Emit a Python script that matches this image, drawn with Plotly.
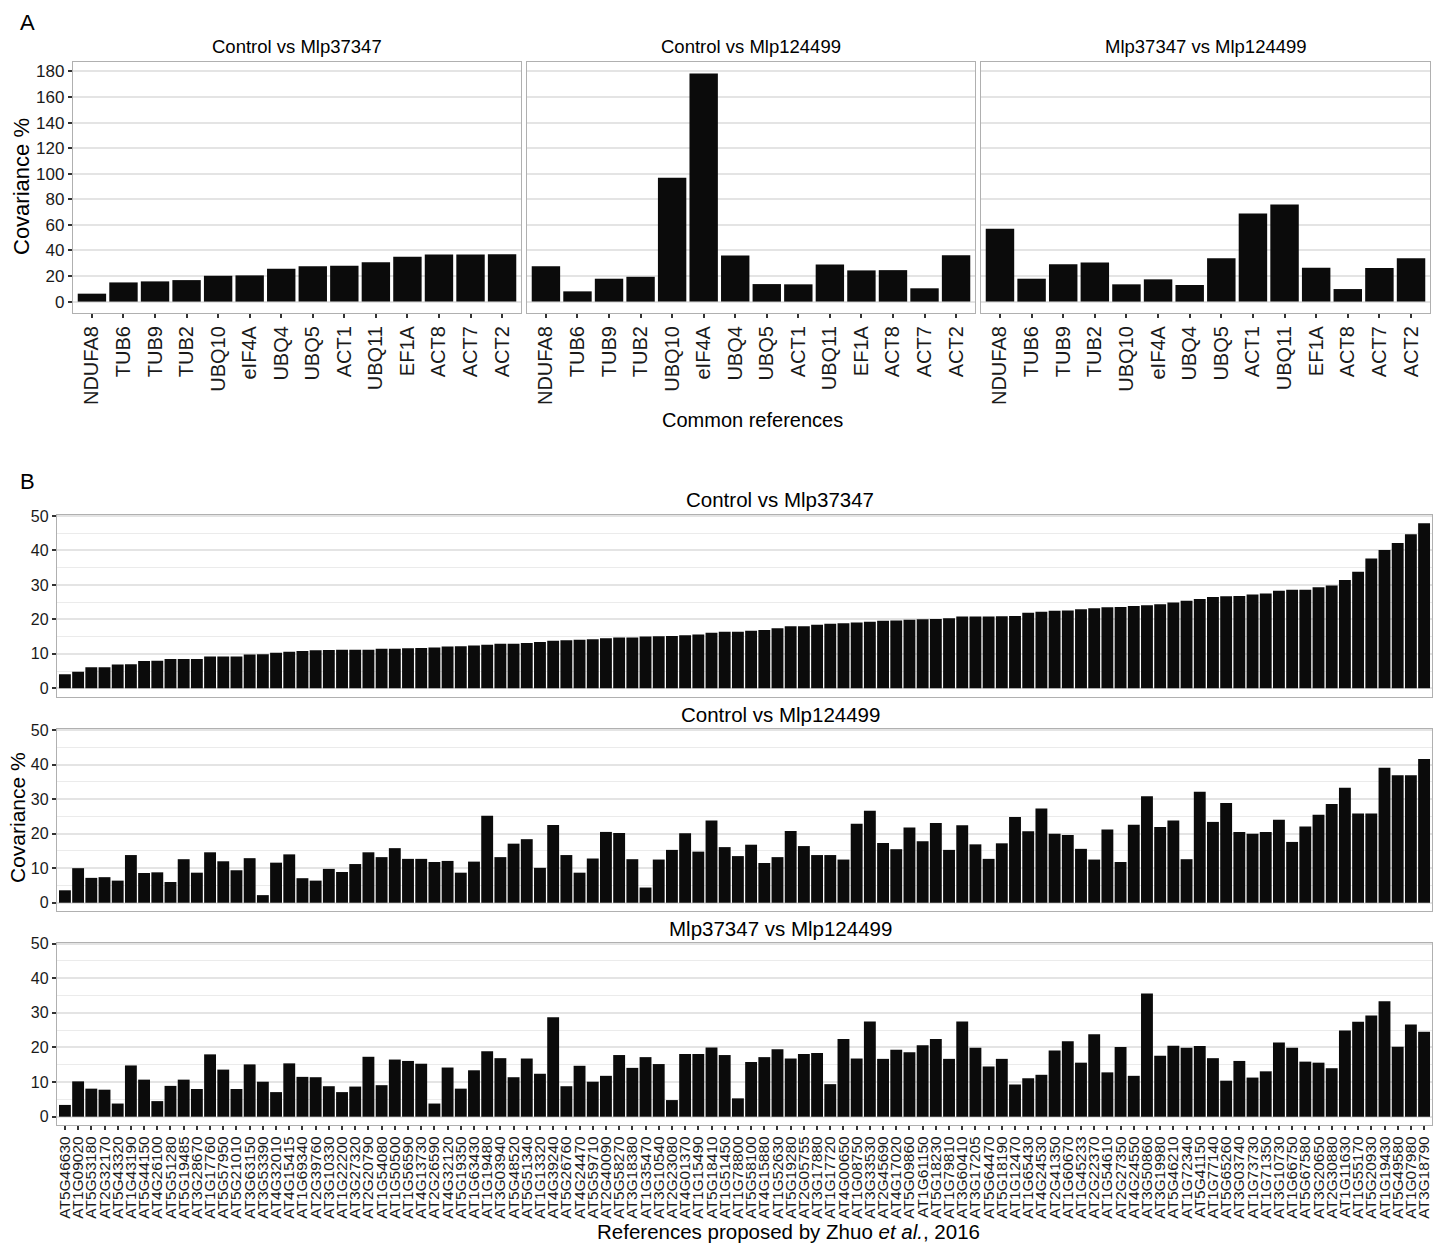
import plotly.graph_objects as go

# ---------------- Panel A: common reference genes ----------------
genes_a = ["NDUFA8", "TUB6", "TUB9", "TUB2", "UBQ10", "eIF4A", "UBQ4",
           "UBQ5", "ACT1", "UBQ11", "EF1A", "ACT8", "ACT7", "ACT2"]

a_ctrl_vs_37347 = [6.2, 15.0, 15.8, 16.8, 20.2, 20.5, 25.6, 27.7, 28.0, 30.8,
                   35.0, 36.8, 36.8, 37.0]
a_ctrl_vs_124499 = [27.7, 8.0, 17.9, 19.4, 96.9, 178.5, 36.0, 13.7, 13.5, 29.0,
                    24.4, 24.6, 10.4, 36.3]
a_37347_vs_124499 = [57.0, 17.9, 29.3, 30.6, 13.5, 17.4, 13.0, 33.9, 68.9, 75.9,
                     26.4, 9.8, 26.2, 33.9]

a_titles = ["Control vs Mlp37347", "Control vs Mlp124499", "Mlp37347 vs Mlp124499"]
a_ticks = [0, 20, 40, 60, 80, 100, 120, 140, 160, 180]

# ---------------- Panel B: references proposed by Zhuo et al. ----------------
genes_b = [
    "AT5G46630", "AT1G09020", "AT5G53180", "AT2G32170", "AT5G43320", "AT1G43190",
    "AT5G44150", "AT4G26100", "AT5G51280", "AT5G19485", "AT3G28670", "AT1G17760",
    "AT5G57950", "AT5G21010", "AT3G63150", "AT3G53390", "AT4G32010", "AT4G15415",
    "AT1G69340", "AT2G39760", "AT3G10330", "AT1G22200", "AT3G27320", "AT2G20790",
    "AT1G54080", "AT1G50500", "AT1G56590", "AT4G13730", "AT2G26590", "AT4G32120",
    "AT5G19350", "AT1G63430", "AT1G19480", "AT3G03940", "AT5G48520", "AT5G51340",
    "AT1G13320", "AT4G39240", "AT5G26760", "AT4G24470", "AT5G59710", "AT2G40090",
    "AT5G58270", "AT3G18380", "AT1G35470", "AT3G10540", "AT2G23080", "AT4G01370",
    "AT1G15490", "AT5G18410", "AT1G51450", "AT1G78800", "AT5G58100", "AT4G15880",
    "AT1G52630", "AT5G19280", "AT2G05755", "AT3G17880", "AT1G17720", "AT4G00650",
    "AT1G08750", "AT3G33530", "AT2G45690", "AT4G17020", "AT5G09860", "AT1G61150",
    "AT5G18230", "AT1G79810", "AT3G60410", "AT3G17205", "AT5G64470", "AT5G18190",
    "AT1G12470", "AT1G65430", "AT4G24530", "AT2G41350", "AT1G60670", "AT1G45233",
    "AT2G22370", "AT1G54610", "AT2G27350", "AT4G24550", "AT3G50860", "AT3G19980",
    "AT5G46210", "AT1G72340", "AT5G41150", "AT1G77140", "AT5G65260", "AT3G03740",
    "AT1G73730", "AT1G71350", "AT3G10730", "AT1G66750", "AT5G67580", "AT3G20650",
    "AT2G30880", "AT1G11630", "AT1G55170", "AT5G20930", "AT1G19430", "AT5G49580",
    "AT1G07980", "AT3G18790",
]

b_ctrl_vs_37347 = [
    4.1, 4.8, 6.1, 6.1, 6.9, 7.0, 7.9, 8.0, 8.5, 8.5, 8.5, 9.2, 9.2, 9.2, 9.8, 9.9,
    10.3, 10.6, 10.8, 11.0, 11.1,
    11.2, 11.2, 11.2, 11.5, 11.5, 11.6, 11.7, 11.8, 12.1, 12.2, 12.4, 12.6, 12.9,
    12.9, 13.1, 13.4, 13.8, 13.9, 14.1, 14.2, 14.5,
    14.7, 14.7, 15.0, 15.1, 15.2, 15.4, 15.6, 16.1, 16.4, 16.4, 16.7, 16.9, 17.4,
    18.0, 18.0, 18.4, 18.7, 18.9, 19.1, 19.3, 19.6,
    19.7, 19.9, 20.0, 20.1, 20.3, 20.8, 20.8, 20.8, 20.9, 21.0, 21.9, 22.2, 22.5,
    22.6, 22.9, 23.2, 23.5, 23.6, 23.9, 24.1, 24.4,
    24.9, 25.4, 25.9, 26.5, 26.7, 26.8, 27.2, 27.5, 28.3, 28.6, 28.6, 29.3, 29.8,
    31.4, 33.8, 37.7, 40.1, 42.2, 44.7, 47.9,
]

b_ctrl_vs_124499 = [
    3.6, 10.0, 7.2, 7.4, 6.4, 13.8, 8.6, 8.8, 6.0, 12.6, 8.7, 14.6, 12.0, 9.4, 12.9,
    2.2, 11.6, 14.0, 7.1, 6.4, 9.8,
    8.9, 11.2, 14.6, 13.2, 15.8, 12.7, 12.7, 11.8, 12.1, 8.7, 11.9, 25.2, 13.2, 17.1,
    18.4, 10.1, 22.5, 13.8, 8.7, 12.8, 20.5,
    20.2, 12.6, 4.4, 12.5, 15.3, 20.1, 14.8, 23.8, 16.1, 13.5, 16.8, 11.5, 13.2, 20.8,
    16.4, 13.8, 13.8, 12.5, 22.9, 26.6, 17.3,
    15.5, 21.8, 17.8, 23.1, 15.3, 22.4, 16.9, 12.7, 17.2, 24.8, 20.7, 27.3, 20.0, 19.6,
    15.6, 12.5, 21.2, 11.8, 22.6, 30.8, 21.9,
    23.8, 12.6, 32.1, 23.4, 28.9, 20.5, 20.0, 20.5, 24.0, 17.6, 22.1, 25.5, 28.6, 33.3,
    25.8, 25.8, 39.1, 36.9, 36.9, 41.6,
]

b_37347_vs_124499 = [
    3.4, 10.2, 8.1, 7.8, 3.8, 14.8, 10.7, 4.5, 8.9, 10.7, 8.0, 18.0, 13.6, 8.0, 15.1,
    10.1, 7.1, 15.4, 11.5, 11.4, 8.8,
    7.1, 8.7, 17.3, 9.1, 16.5, 16.1, 15.3, 3.8, 14.2, 8.1, 13.4, 18.9, 16.9, 11.4,
    16.8, 12.4, 28.7, 8.8, 14.7, 10.1, 11.8,
    17.8, 14.1, 17.2, 15.2, 4.8, 18.1, 18.1, 20.0, 17.8, 5.3, 15.8, 17.2, 19.5, 16.8,
    18.1, 18.4, 9.4, 22.4, 16.8, 27.5, 16.7,
    19.3, 18.6, 20.6, 22.4, 16.7, 27.5, 19.9, 14.5, 16.7, 9.3, 11.1, 12.1, 19.1, 21.8,
    15.6, 23.8, 12.8, 20.1, 11.8, 35.6, 17.6,
    20.5, 19.9, 20.4, 16.9, 10.4, 16.1, 11.3, 13.1, 21.4, 19.9, 15.9, 15.6, 14.0, 24.9,
    27.4, 29.2, 33.3, 20.2, 26.6, 24.5,
]

b_titles = ["Control vs Mlp37347", "Control vs Mlp124499", "Mlp37347 vs Mlp124499"]
b_ticks = [0, 10, 20, 30, 40, 50]

# ---------------- figure geometry (pixels) ----------------
W, H = 1442, 1243
FONT = "Liberation Sans, Arial, Helvetica, sans-serif"
BAR = "#0b0b0b"
BORDER = "#b0b0b0"
GRID = "#e4e4e4"
TICKC = "#333333"
TXT = "#1a1a1a"


def px(x):
    return x / W


def py(y):
    return 1 - y / H


a_x_domains = [(73, 521), (527, 975), (981, 1430)]
a_y_domain = (313, 62)
b_x_domain = (57, 1432)
b_y_domains = [(696.5, 515), (911, 729), (1125, 942.5)]

fig = go.Figure()
layout = {}

a_series = [a_ctrl_vs_37347, a_ctrl_vs_124499, a_37347_vs_124499]
a_max = max(max(s) for s in a_series)
a_range = [-0.05 * a_max, 1.05 * a_max]

for k, vals in enumerate(a_series):
    n = k + 1
    xa = "x" if n == 1 else f"x{n}"
    ya = "y" if n == 1 else f"y{n}"
    fig.add_trace(go.Bar(x=genes_a, y=vals, xaxis=xa, yaxis=ya,
                         marker=dict(color=BAR, line=dict(width=0)),
                         hoverinfo="x+y"))
    layout[f"xaxis{'' if n == 1 else n}"] = dict(
        domain=[px(a_x_domains[k][0]), px(a_x_domains[k][1])], anchor=ya,
        type="category", range=[-0.6, len(genes_a) - 0.4],
        tickmode="array", tickvals=genes_a, ticktext=genes_a,
        showline=True, mirror=True, linecolor=BORDER, linewidth=1.3,
        ticks="outside", ticklen=4, tickwidth=2, tickcolor=TICKC,
        tickangle=-90, tickfont=dict(family=FONT, size=20, color=TXT),
        showgrid=False, zeroline=False, automargin=False, fixedrange=True)
    layout[f"yaxis{'' if n == 1 else n}"] = dict(
        domain=[py(a_y_domain[0]), py(a_y_domain[1])], anchor=xa,
        range=a_range, tickvals=a_ticks,
        showticklabels=(n == 1),
        ticks="outside" if n == 1 else "", ticklen=4, tickwidth=2, tickcolor=TICKC,
        tickfont=dict(family=FONT, size=17, color=TXT),
        showline=True, mirror=True, linecolor=BORDER, linewidth=1.3,
        showgrid=True, gridcolor=GRID, gridwidth=1.6,
        zeroline=False, automargin=False, fixedrange=True)

b_series = [b_ctrl_vs_37347, b_ctrl_vs_124499, b_37347_vs_124499]
b_max = max(max(s) for s in b_series)
b_range = [-0.05 * b_max, 1.05 * b_max]

for k, vals in enumerate(b_series):
    n = k + 4
    xa, ya = f"x{n}", f"y{n}"
    last = (k == 2)
    fig.add_trace(go.Bar(x=genes_b, y=vals, xaxis=xa, yaxis=ya,
                         marker=dict(color=BAR, line=dict(width=0)),
                         hoverinfo="x+y"))
    layout[f"xaxis{n}"] = dict(
        domain=[px(b_x_domain[0]), px(b_x_domain[1])], anchor=ya,
        type="category", range=[-0.6, len(genes_b) - 0.4],
        tickmode="array", tickvals=genes_b, ticktext=genes_b,
        showline=True, mirror=True, linecolor=BORDER, linewidth=1.3,
        showticklabels=last, ticks="outside" if last else "",
        ticklen=4, tickwidth=2, tickcolor=TICKC,
        tickangle=-90, tickfont=dict(family=FONT, size=15.5, color=TXT),
        showgrid=False, zeroline=False, automargin=False, fixedrange=True)
    layout[f"yaxis{n}"] = dict(
        domain=[py(b_y_domains[k][0]), py(b_y_domains[k][1])], anchor=xa,
        range=b_range, tickvals=b_ticks,
        ticks="outside", ticklen=4, tickwidth=2, tickcolor=TICKC,
        tickfont=dict(family=FONT, size=16, color=TXT),
        showline=True, mirror=True, linecolor=BORDER, linewidth=1.3,
        showgrid=True, gridcolor=GRID, gridwidth=1.5,
        minor=dict(dtick=5, tick0=0, showgrid=True, gridcolor="#ebebeb",
                   gridwidth=1.2, ticks=""),
        zeroline=False, automargin=False, fixedrange=True)


def label(text, x, y, size, angle=0):
    return dict(text=text, x=px(x), y=py(y), xref="paper", yref="paper",
                showarrow=False, textangle=angle, xanchor="center", yanchor="middle",
                font=dict(family=FONT, size=size, color="#000000"))


annotations = [
    label("A", 28, 22, 22),
    label("B", 28, 482, 22),
    label("Covariance %", 21, 187, 22, -90),
    label("Common references", 752, 420, 20),
    label("Covariance %", 17, 818, 21, -90),
    label("References proposed by Zhuo <i>et al.</i>, 2016", 788, 1231, 20.5),
]
for k, t in enumerate(a_titles):
    cx = (a_x_domains[k][0] + a_x_domains[k][1]) / 2
    annotations.append(label(t, cx, 46, 18.5))
for k, t in enumerate(b_titles):
    annotations.append(label(t, 780, [500, 714, 928][k], 20.5))

fig.update_layout(
    width=W, height=H, margin=dict(l=0, r=0, t=0, b=0),
    paper_bgcolor="white", plot_bgcolor="white",
    showlegend=False, bargap=0.1,
    annotations=annotations,
    **layout,
)

fig.write_html("out.html")
